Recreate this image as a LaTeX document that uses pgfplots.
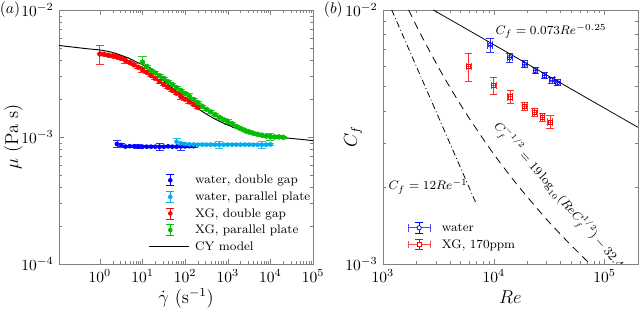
\documentclass[border=0pt]{standalone}
\usepackage{pgfplots}
\pgfplotsset{compat=1.18}
\usepackage{pgfplotstable}
\definecolor{mgreen}{rgb}{0,0.75,0}

\pgfplotstableread{
g mu e
2.5119 0.000881 0.06
3.1623 0.000865 0.02
3.9811 0.000840 0.02
5.0119 0.000846 0.02
6.3096 0.000843 0.02
7.9433 0.000840 0.04
10 0.000838 0.02
12.589 0.000838 0.02
15.849 0.000838 0.02
19.953 0.000838 0.02
25.119 0.000838 0.07
31.623 0.000838 0.02
39.811 0.000843 0.02
50.119 0.000838 0.02
63.096 0.000838 0.02
79.433 0.000843 0.07
100 0.000843 0.02
125.89 0.000846 0.02
158.49 0.000846 0.02
}\waterdg

\pgfplotstableread{
g mu e
63.096 0.000918 0.07
79.433 0.000891 0.02
100 0.000880 0.02
125.89 0.000875 0.02
158.49 0.000872 0.02
199.53 0.000870 0.02
251.19 0.000870 0.02
316.23 0.000870 0.02
398.11 0.000870 0.02
501.19 0.000870 0.02
630.96 0.000870 0.06
794.33 0.000870 0.02
1000 0.000870 0.02
1258.9 0.000870 0.02
1584.9 0.000870 0.02
1995.3 0.000870 0.02
2511.9 0.000870 0.02
3162.3 0.000870 0.02
3981.1 0.000868 0.02
5011.9 0.000868 0.02
6309.6 0.000868 0.07
7943.3 0.000870 0.02
10000 0.000872 0.02
}\waterpp

\pgfplotstableread{
g mu e
1 0.004502 0.165
1.2589 0.004478 0.02
1.5849 0.004397 0.02
1.9953 0.004342 0.02
2.5119 0.004264 0.02
3.1623 0.004150 0.02
3.9811 0.004003 0.05
5.0119 0.003860 0.02
6.3096 0.003703 0.02
7.9433 0.003539 0.02
10 0.003382 0.05
12.589 0.003232 0.02
15.849 0.003050 0.02
19.953 0.002888 0.02
25.119 0.002735 0.04
31.623 0.002591 0.02
39.811 0.002454 0.02
50.119 0.002323 0.02
63.096 0.002208 0.02
79.433 0.002084 0.05
100 0.001984 0.02
125.89 0.001886 0.02
158.49 0.001802 0.02
199.53 0.001707 0.02
}\xgdg

\pgfplotstableread{
g mu e
10 0.003875 0.11
12.589 0.003590 0.02
15.849 0.003339 0.02
19.953 0.003191 0.02
25.119 0.003034 0.02
31.623 0.002888 0.02
39.811 0.002720 0.02
50.119 0.002576 0.02
63.096 0.002440 0.02
79.433 0.002323 0.02
100 0.002200 0.02
125.89 0.002084 0.05
158.49 0.001973 0.02
199.53 0.001859 0.02
251.19 0.001738 0.02
316.23 0.001652 0.02
398.11 0.001574 0.02
501.19 0.001496 0.02
630.96 0.001429 0.02
794.33 0.001368 0.02
1000 0.001317 0.04
1258.9 0.001270 0.02
1584.9 0.001209 0.02
1995.3 0.001166 0.02
2511.9 0.001125 0.02
3162.3 0.001095 0.02
3981.1 0.001069 0.02
5011.9 0.001050 0.02
6309.6 0.001033 0.02
7943.3 0.001018 0.02
10000 0.001006 0.06
12589 0.001000 0.02
15849 0.001000 0.02
19953 0.000995 0.02
}\xgpp

\pgfplotstableread{
g mu
0.11 0.00525
0.5 0.00495
1 0.00484
2 0.00462
4.5 0.00420
8 0.00383
15 0.003475
35 0.002686
90 0.002076
222 0.001632
549 0.001361
1346 0.001193
3320 0.001081
8190 0.001024
20090 0.000987
49540 0.000959
100000 0.000935
}\cymodel

\pgfplotstableread{
Re Cf ex ey
9290 0.00728 0.05 0.065
13900 0.00649 0.05 0.043
19000 0.00611 0.05 0.032
23740 0.00577 0.05 0.027
28640 0.00551 0.05 0.027
33620 0.00530 0.05 0.027
37800 0.00517 0.05 0.027
}\waterRe

\pgfplotstableread{
Re Cf ex ey
5940 0.00600 0.05 0.125
9955 0.00504 0.05 0.08
14100 0.00455 0.05 0.056
18960 0.00419 0.05 0.037
23400 0.00396 0.05 0.037
27470 0.00379 0.05 0.037
32260 0.00362 0.05 0.06
}\xgRe

\pgfplotstableread{
Re Cf
1704 0.010
2198 0.008
3131 0.006
3982 0.005
5449 0.004
8466 0.003
11452 0.0025
17048 0.002
29938 0.0015
48424 0.0012
74079 0.001
}\mdr

\newcommand{\legA}[1]{%
    \draw[draw=#1, fill=none, solid, line width=0.5pt] (13.5pt,-3.5pt) -- (13.5pt,3.5pt)
      (10.9pt,-3.5pt) -- (16.1pt,-3.5pt) (10.9pt,3.5pt) -- (16.1pt,3.5pt);
    \path[fill=#1, draw=none] (13.5pt,0pt) circle (1.5pt);
    \path[draw=none, fill=none] (0pt,0pt) -- (28.3pt,0pt);}
\newcommand{\legB}[2]{%
    \draw[draw=#1, fill=none, solid, line width=0.5pt, opacity=0.7] (0pt,0pt) -- (14pt,0pt)
      (0pt,-2.4pt) -- (0pt,2.4pt) (14pt,-2.4pt) -- (14pt,2.4pt);
    \draw[draw=#1, fill=none, solid, line width=0.5pt] (7pt,-3.3pt) -- (7pt,3.3pt)
      (4.6pt,-3.3pt) -- (9.4pt,-3.3pt) (4.6pt,3.3pt) -- (9.4pt,3.3pt);
    #2
    \path[draw=none, fill=none] (0pt,0pt) -- (20.5pt,0pt);}

\begin{document}
\begin{tikzpicture}
\begin{axis}[
  scale only axis, xmode=log, ymode=log,
  tick align=inside,
  axis line style={black!50},
  major tick length=3.5pt, minor tick length=2pt,
  at={(0pt,0pt)}, anchor=south west,
  width=163.9pt, height=163.9pt,
  xmin=0.11, xmax=1e5, ymin=1e-4, ymax=1e-2,
  xtick={1,10,100,1000,10000,100000},
  ytick={1e-4,1e-3,1e-2},
  xlabel={$\dot{\gamma}$ (s$^{-1}$)},
  ylabel={$\mu$ (Pa s)},
  xlabel style={at={(rel axis cs:0.5,-0.155)}, anchor=base, font=\large},
  ylabel style={at={(rel axis cs:-0.161,0.5)}, anchor=base, font=\large},
  legend cell align=left,
  legend style={draw=none, fill=none, font=\footnotesize,
    at={(rel axis cs:0.354,0.362)}, anchor=north west,
    inner sep=0pt, outer sep=0pt, row sep=0pt,
    nodes={inner sep=1.2pt, text height=6.5pt, text depth=1.8pt}},
]
\addplot[only marks, mark=*, mark size=1.3pt, color=blue,
  legend image code/.code={\legA{blue}},
  error bars/y dir=both, error bars/y explicit relative,
  error bars/error bar style={line width=0.5pt, opacity=0.8},
  error bars/error mark options={rotate=90, mark size=2.6pt, line width=0.5pt, opacity=0.8}]
  table[x=g, y=mu, y error=e] {\waterdg};
\addlegendentry{water, double gap}
\addplot[only marks, mark=*, mark size=1.3pt, color=cyan,
  legend image code/.code={\legA{cyan}},
  error bars/y dir=both, error bars/y explicit relative,
  error bars/error bar style={line width=0.5pt, opacity=0.8},
  error bars/error mark options={rotate=90, mark size=2.6pt, line width=0.5pt, opacity=0.8}]
  table[x=g, y=mu, y error=e] {\waterpp};
\addlegendentry{water, parallel plate}
\addplot[only marks, mark=*, mark size=1.55pt, color=red,
  legend image code/.code={\legA{red}},
  error bars/y dir=both, error bars/y explicit relative,
  error bars/error bar style={line width=0.5pt, opacity=0.8},
  error bars/error mark options={rotate=90, mark size=2.6pt, line width=0.5pt, opacity=0.8}]
  table[x=g, y=mu, y error=e] {\xgdg};
\addlegendentry{XG, double gap}
\addplot[only marks, mark=*, mark size=1.55pt, color=mgreen,
  legend image code/.code={\legA{mgreen}},
  error bars/y dir=both, error bars/y explicit relative,
  error bars/error bar style={line width=0.5pt, opacity=0.8},
  error bars/error mark options={rotate=90, mark size=2.6pt, line width=0.5pt, opacity=0.8}]
  table[x=g, y=mu, y error=e] {\xgpp};
\addlegendentry{XG, parallel plate}
\addplot[black, line width=0.6pt, smooth, no marks,
  legend image code/.code={\draw[black, line width=0.6pt] (0pt,0pt) -- (25.8pt,0pt); \path[draw=none, fill=none] (0pt,0pt) -- (28.3pt,0pt);}]
  table[x=g, y=mu] {\cymodel};
\addlegendentry{CY model}
\end{axis}

\begin{axis}[
  scale only axis, xmode=log, ymode=log,
  tick align=inside,
  axis line style={black!50},
  major tick length=3.5pt, minor tick length=2pt,
  at={(209pt,0pt)}, anchor=south west,
  width=164.5pt, height=163.9pt,
  xmin=1e3, xmax=2e5, ymin=1e-3, ymax=1e-2,
  xtick={1e3,1e4,1e5},
  ytick={1e-3,1e-2},
  xlabel={$Re$},
  ylabel={$C_f$},
  xlabel style={at={(rel axis cs:0.5,-0.155)}, anchor=base, font=\large},
  ylabel style={at={(rel axis cs:-0.102,0.5)}, anchor=base, font=\large},
  legend cell align=left,
  legend style={draw=none, fill=none, font=\footnotesize,
    at={(rel axis cs:0.098,0.175)}, anchor=north west,
    inner sep=0pt, outer sep=0pt, row sep=0pt,
    nodes={inner sep=1.2pt, text height=6.5pt, text depth=1.8pt}},
]
\addplot[only marks, mark=o, mark size=1.4pt, color=blue,
  legend image code/.code={\legB{blue}{\draw[draw=blue, fill=white, solid, line width=0.5pt] (7pt,0pt) circle (1.4pt);}},
  error bars/x dir=both, error bars/x explicit relative,
  error bars/y dir=both, error bars/y explicit relative,
  error bars/error bar style={line width=0.5pt, opacity=0.8},
  error bars/error mark options={rotate=90, mark size=2.4pt, line width=0.5pt, opacity=0.8}]
  table[x=Re, y=Cf, x error=ex, y error=ey] {\waterRe};
\addlegendentry{water}
\addplot[only marks, mark=square, mark size=1.3pt, color=red,
  legend image code/.code={\legB{red}{\draw[draw=red, fill=white, solid, line width=0.5pt] (5.7pt,-1.3pt) rectangle (8.3pt,1.3pt);}},
  error bars/x dir=both, error bars/x explicit relative,
  error bars/y dir=both, error bars/y explicit relative,
  error bars/error bar style={line width=0.5pt, opacity=0.8},
  error bars/error mark options={rotate=90, mark size=2.4pt, line width=0.5pt, opacity=0.8}]
  table[x=Re, y=Cf, x error=ex, y error=ey] {\xgRe};
\addlegendentry{XG, 170ppm}
\addplot[black, line width=0.5pt, no marks, forget plot] coordinates {(2839.8,0.01) (200000,0.003452)};
\addplot[black, line width=0.5pt, no marks, forget plot, dash pattern=on 4pt off 1.8pt on 0.6pt off 1.8pt] coordinates {(1200,0.01) (7000,0.001714)};
\addplot[black, line width=0.5pt, no marks, forget plot, smooth, dash pattern=on 5pt off 3.5pt] table[x=Re, y=Cf] {\mdr};
\node[font=\footnotesize, anchor=west, inner sep=0pt] at (axis cs:10320,0.00822) {$C_f = 0.073Re^{-0.25}$};
\node[font=\footnotesize, anchor=west, inner sep=0pt] at (axis cs:1117,0.002015) {$C_f = 12Re^{-1}$};
\node[font=\fontsize{7.6}{9}\selectfont, rotate=-49, inner sep=0pt] at (axis cs:38500,0.00186) {$C_f^{-1/2} = 19\log_{10}(ReC_f^{1/2}) - 32.4$};
\end{axis}

\node at (-31.6pt,163.9pt) {$(a)$};
\node at (177pt,163.9pt) {$(b)$};

\pgfresetboundingbox
\path[use as bounding box] (-38.06pt,-29.68pt) rectangle (374.2pt,170.3pt);
\end{tikzpicture}
\end{document}
